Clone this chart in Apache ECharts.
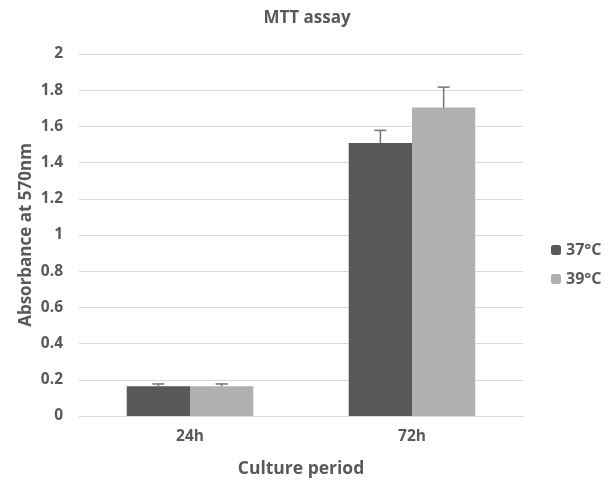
<!DOCTYPE html>
<html lang="en">
<head>
    <meta charset="UTF-8">
    <title>MTT assay</title>
    <script src="https://cdn.jsdelivr.net/npm/echarts@6/dist/echarts.min.js"></script>
    <style>
        html, body{
            margin: 0;
            padding: 0;
            background: #fff;
        }
        #chart{
            width: 613px;
            height: 483px;
        }
    </style>
</head>
<body>
<div id="chart"></div>
<script>
    var periods = ['24h', '72h'];
    var mean37 = [0.165, 1.508];
    var err37 = [0.012, 0.07];
    var mean39 = [0.165, 1.704];
    var err39 = [0.012, 0.113];

    var textColor = '#595959';
    var font = '"Open Sans", sans-serif';
    var catGap = 0.43;

    // draws the upper half of an error bar, shifted to sit over its bar
    function errorBar(means, errs, side){
        return function(params, api){
            var i = api.value(0);
            var band = api.size([1, 0])[0];
            var shift = side * band * (1 - catGap) / 4;
            var base = api.coord([i, means[i]]);
            var top = api.coord([i, means[i] + errs[i]]);
            var x = base[0] + shift;
            var cap = 6;
            var style = {stroke: '#737373', lineWidth: 1.5};
            return {
                type: 'group',
                children: [
                    {type: 'line', shape: {x1: x, y1: base[1], x2: x, y2: top[1]}, style: style},
                    {type: 'line', shape: {x1: x - cap, y1: top[1], x2: x + cap, y2: top[1]}, style: style}
                ]
            };
        };
    }

    var chart = echarts.init(document.getElementById('chart'));
    chart.setOption({
        animation: false,
        textStyle: {fontFamily: font},
        title: {
            text: 'MTT assay',
            left: 302,
            textAlign: 'center',
            top: 5,
            textStyle: {color: textColor, fontSize: 17, fontWeight: 'bold', fontFamily: font}
        },
        legend: {
            orient: 'vertical',
            left: 546,
            top: 237,
            itemWidth: 10,
            itemHeight: 10,
            itemGap: 13,
            data: ['37°C', '39°C'],
            textStyle: {color: textColor, fontSize: 16, fontWeight: 'bold', fontFamily: font}
        },
        grid: {left: 79, right: 90, top: 54, bottom: 64},
        xAxis: {
            type: 'category',
            data: periods,
            name: 'Culture period',
            nameLocation: 'middle',
            nameGap: 44,
            nameMoveOverlap: false,
            nameTextStyle: {color: textColor, fontSize: 17.5, fontWeight: 'bold'},
            axisLine: {lineStyle: {color: '#d9d9d9'}},
            axisTick: {show: false},
            axisLabel: {color: textColor, fontSize: 15.5, fontWeight: 'bold', margin: 13}
        },
        yAxis: {
            type: 'value',
            min: 0,
            max: 2,
            interval: 0.2,
            name: 'Absorbance at 570nm',
            nameLocation: 'middle',
            nameGap: 44,
            nameMoveOverlap: false,
            nameTextStyle: {color: textColor, fontSize: 17, fontWeight: 'bold'},
            axisLine: {show: false},
            axisTick: {show: false},
            splitLine: {lineStyle: {color: '#d9d9d9'}},
            axisLabel: {
                color: textColor, fontSize: 15.5, fontWeight: 'bold', margin: 16,
                formatter: function(v){ return String(Math.round(v * 10) / 10); }
            }
        },
        series: [
            {
                name: '37°C',
                type: 'bar',
                data: mean37,
                barGap: '0%',
                barCategoryGap: '43%',
                itemStyle: {color: '#595959'}
            },
            {
                name: '39°C',
                type: 'bar',
                data: mean39,
                itemStyle: {color: '#b0b0b0'}
            },
            {
                type: 'custom',
                data: periods.map(function(p, i){ return [i]; }),
                renderItem: errorBar(mean37, err37, -1),
                z: 5
            },
            {
                type: 'custom',
                data: periods.map(function(p, i){ return [i]; }),
                renderItem: errorBar(mean39, err39, 1),
                z: 5
            }
        ]
    });
</script>
</body>
</html>
